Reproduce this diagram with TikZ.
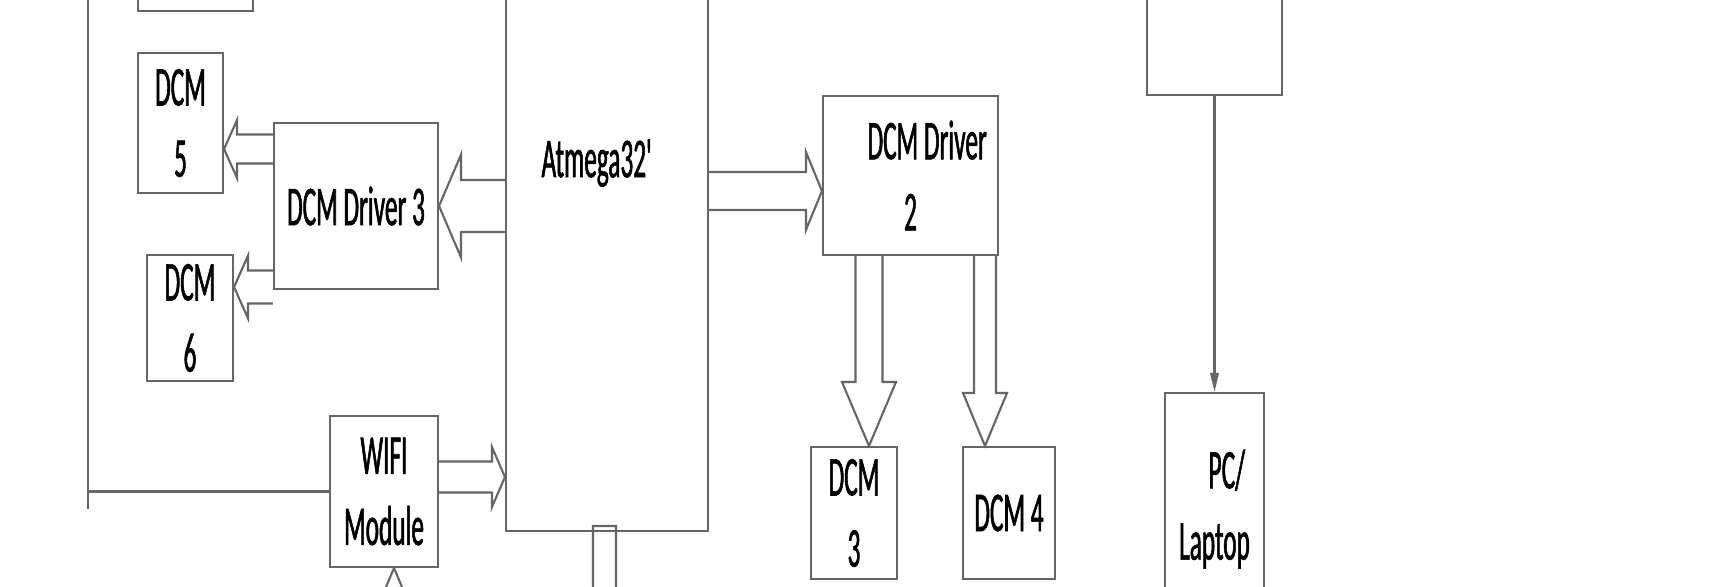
\documentclass[tikz,border=0pt]{standalone}
\usepackage{fontspec}
\setmainfont{Carlito}[FakeStretch=0.45, FakeBold=1]
\usepackage{tikz}
\usetikzlibrary{arrows.meta, calc}
\tikzstyle{block} = [rectangle, draw=black!60, line width=1.2pt, align=center, inner sep=0pt, font=\fontsize{32}{40.5}\selectfont]
\tikzstyle{wire} = [draw=black!60, line width=1.2pt, line join=miter]
\tikzstyle{arrow} = [wire, -{Triangle[length=0.38cm, width=0.17cm]}]
% hollow block arrow: shaft half width, head half width, head length
\tikzset{fat/.style n args={3}{wire, to path={
  ($(\tikztostart)!#1!90:(\tikztotarget)$)
  -- ($($(\tikztotarget)!#3!(\tikztostart)$)!#1!90:(\tikztotarget)$)
  -- ($($(\tikztotarget)!#3!(\tikztostart)$)!#2!90:(\tikztotarget)$)
  -- (\tikztotarget)
  -- ($($(\tikztotarget)!#3!(\tikztostart)$)!#2!-90:(\tikztotarget)$)
  -- ($($(\tikztotarget)!#3!(\tikztostart)$)!#1!-90:(\tikztotarget)$)
  -- ($(\tikztostart)!#1!-90:(\tikztotarget)$)
}}}
\begin{document}
\begin{tikzpicture}[x=0.02cm, y=-0.02cm]
\fill[white] (0,0) rectangle (1724,586);
\useasboundingbox (0,0) rectangle (1724,586);
\clip (0,0) rectangle (1724,586);

\node [block, minimum width=2.3cm, minimum height=2.02cm] (tlbox) at (195.5,-39.5) {};
\node [block, minimum width=1.7cm, minimum height=2.8cm] (dcm5) at (180.5,123) {DCM\\5};
\node [block, minimum width=3.28cm, minimum height=3.32cm] (drv3) at (356,206) {DCM Driver 3};
\node [block, minimum width=1.72cm, minimum height=2.52cm] (dcm6) at (190,318) {DCM\\6};
\node [block, minimum width=2.16cm, minimum height=3.02cm] (wifi) at (384,491.5) {WIFI\\Module};
\node [block, minimum width=4.04cm, minimum height=11.82cm] (mcu) at (607,235.5) {};
\node [font=\fontsize{32}{40.5}\selectfont] (mcutxt) at (600,163) {Atmega32\textquotesingle};
\node [block, minimum width=3.5cm, minimum height=3.18cm] (drv2) at (910.5,175.5) {\hspace*{19pt}DCM Driver\\2};
\node [block, minimum width=1.72cm, minimum height=2.64cm] (dcm3) at (854,513) {DCM\\3};
\node [block, minimum width=1.84cm, minimum height=2.64cm] (dcm4) at (1009,513) {DCM 4};
\node [block, minimum width=2.7cm, minimum height=3.1cm] (trbox) at (1214.5,17.5) {};
\node [block, minimum width=1.98cm, minimum height=4.64cm] (pc) at (1214.5,509) {\hspace*{14pt}PC/\\Laptop};

\coordinate (t5) at ($(dcm5.east)+(0,26)$);
\coordinate (t6) at ($(dcm6.east)+(0,-31)$);
\coordinate (s1) at ($(wifi.east)+(0,-14.5)$);
\coordinate (t2) at ($(drv2.west)+(0,15.5)$);
\coordinate (t3) at ($(dcm3.north)+(15,0)$);
\coordinate (t4) at ($(dcm4.north)+(-24,0)$);
\coordinate (t7) at ($(wifi.south)+(10,0)$);
\coordinate (src7) at (394,760);
\coordinate (s8) at ($(mcu.south)+(-2.5,-6)$);
\coordinate (dst8) at (604.5,760);
\coordinate (src9) at (88,-40);

\draw [fat={0.52cm}{1.03cm}{0.44cm}] (drv3.east -| mcu.west) to (drv3.east);
\draw [fat={0.29cm}{0.58cm}{0.26cm}] (drv3.west |- t5) to (t5);
\draw [fat={0.33cm}{0.63cm}{0.28cm}] (drv3.west |- t6) to (t6);
\draw [fat={0.31cm}{0.6cm}{0.26cm}] (s1) to (mcu.west |- s1);
\draw [fat={0.38cm}{0.78cm}{0.32cm}] (mcu.east |- t2) to (t2);
\draw [fat={0.27cm}{0.54cm}{1.28cm}] (drv2.south -| t3) to (t3);
\draw [fat={0.22cm}{0.44cm}{1.06cm}] (drv2.south -| t4) to (t4);
\draw [fat={0.27cm}{0.54cm}{1.28cm}] (src7) to (t7);
\draw [fat={0.23cm}{0.46cm}{0.6cm}] (s8) to (dst8) -- cycle;
\draw [arrow] (trbox.south) -- (pc.north);
\draw [wire] (src9) -- ($(src9 |- wifi.west)+(0,17)$);
\draw [wire] (src9 |- wifi.west) -- (wifi.west);
\end{tikzpicture}
\end{document}
